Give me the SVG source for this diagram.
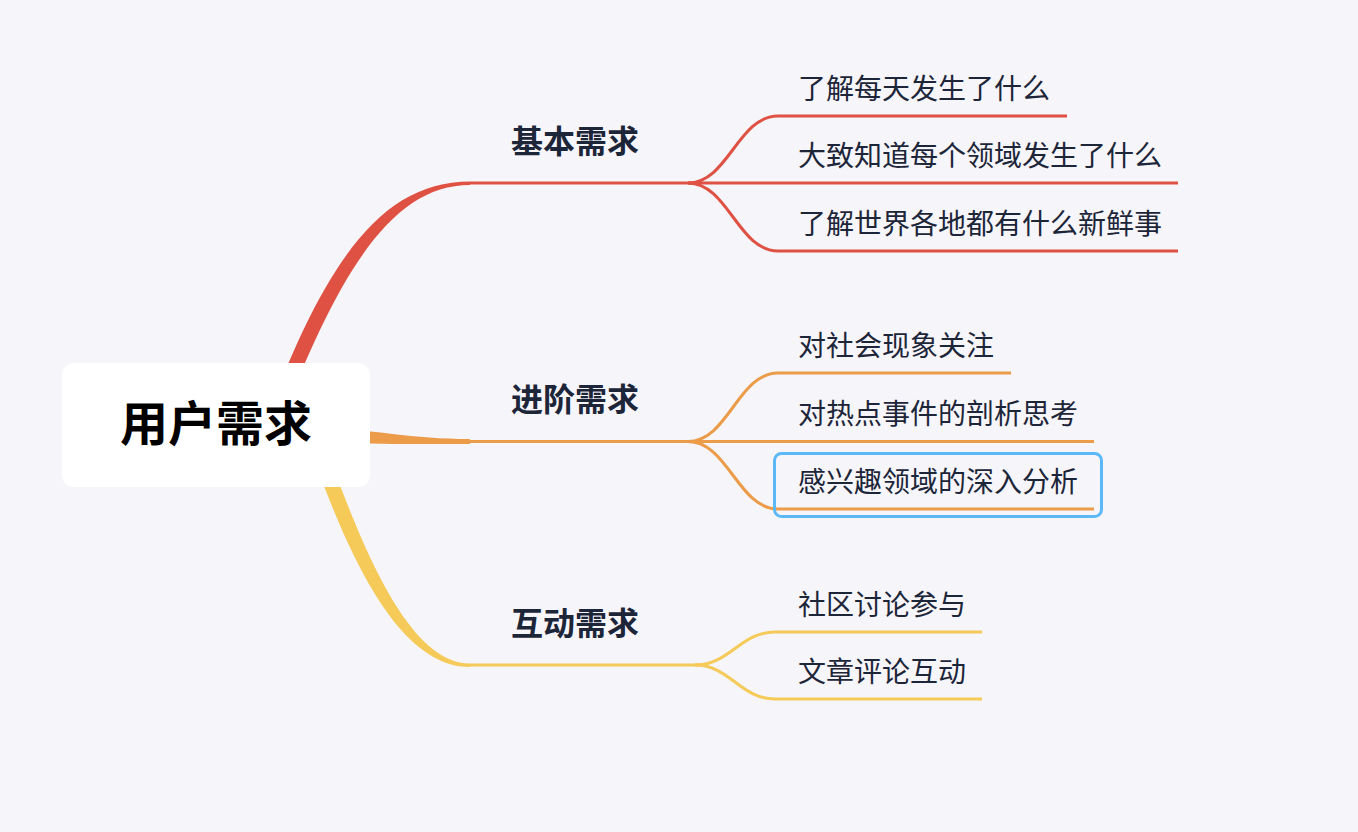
<svg xmlns="http://www.w3.org/2000/svg" width="1358" height="832" viewBox="0 0 1358 832">
<style>
.bg{fill:#f5f5fa}
.ln{fill:none;stroke-width:3;stroke-linecap:butt}
.r{stroke:#df5143}.o{stroke:#ec9b48}.y{stroke:#f5ca58}
.rf{fill:#df5143}.of{fill:#ec9b48}.yf{fill:#f5ca58}
.t{font-family:"Noto Sans CJK SC","Noto Sans",sans-serif;fill:#1d2539}
.main{font-size:32px;font-weight:bold}
.sub{font-size:28px}
.root{font-family:"Noto Sans CJK SC","Noto Sans",sans-serif;font-size:48px;font-weight:bold;fill:#000}
.sel{fill:none;stroke:#5bb9f7;stroke-width:3}
</style>
<rect class="bg" x="0" y="0" width="1358" height="832"/>
<g id="connectors">
  <!-- main tapered branches -->
  <path class="rf" d="M262,430 C322,268 378,181.5 470,181.5 L470,185 C392,185 338,272 278,430 Z"/>
  <path class="of" d="M300,425 C380,430 410,439 470,439 L470,444 C410,444 380,444 300,443 Z"/>
  <path class="yf" d="M302,425 C342,542 394,667 470,667 L470,663.5 C406,663.5 358,538 318,425 Z"/>
  <!-- red -->
  <path class="ln r" d="M470,183 H1178"/>
  <path class="ln r" d="M688,183 C728,183 738,116 778,116 H1067"/>
  <path class="ln r" d="M688,183 C728,183 738,251 778,251 H1178"/>
  <!-- orange -->
  <path class="ln o" d="M470,441.5 H1094"/>
  <path class="ln o" d="M688,441.5 C728,441.5 738,373 778,373 H1011"/>
  <path class="ln o" d="M688,441.5 C728,441.5 738,509 778,509 H1094"/>
  <!-- yellow -->
  <path class="ln y" d="M470,665 H700"/>
  <path class="ln y" d="M695,665 C730,665 740,632 775,632 H982"/>
  <path class="ln y" d="M695,665 C730,665 740,699 775,699 H982"/>
</g>
<g id="root">
  <rect x="62" y="363" width="308" height="124" rx="12" fill="#ffffff"/>
  <text class="root" x="216" y="441" text-anchor="middle">用户需求</text>
</g>
<g id="basic"><text class="t main" x="511" y="153">基本需求</text></g>
<g id="advanced"><text class="t main" x="511" y="411">进阶需求</text></g>
<g id="interact"><text class="t main" x="511" y="635">互动需求</text></g>
<g id="b1"><text class="t sub" x="798" y="99">了解每天发生了什么</text></g>
<g id="b2"><text class="t sub" x="798" y="166">大致知道每个领域发生了什么</text></g>
<g id="b3"><text class="t sub" x="798" y="234">了解世界各地都有什么新鲜事</text></g>
<g id="a1"><text class="t sub" x="798" y="356">对社会现象关注</text></g>
<g id="a2"><text class="t sub" x="798" y="424">对热点事件的剖析思考</text></g>
<g id="a3">
  <rect class="sel" x="774.5" y="453.5" width="327" height="63" rx="7"/>
  <text class="t sub" x="798" y="492">感兴趣领域的深入分析</text>
</g>
<g id="i1"><text class="t sub" x="798" y="615">社区讨论参与</text></g>
<g id="i2"><text class="t sub" x="798" y="682">文章评论互动</text></g>
</svg>
